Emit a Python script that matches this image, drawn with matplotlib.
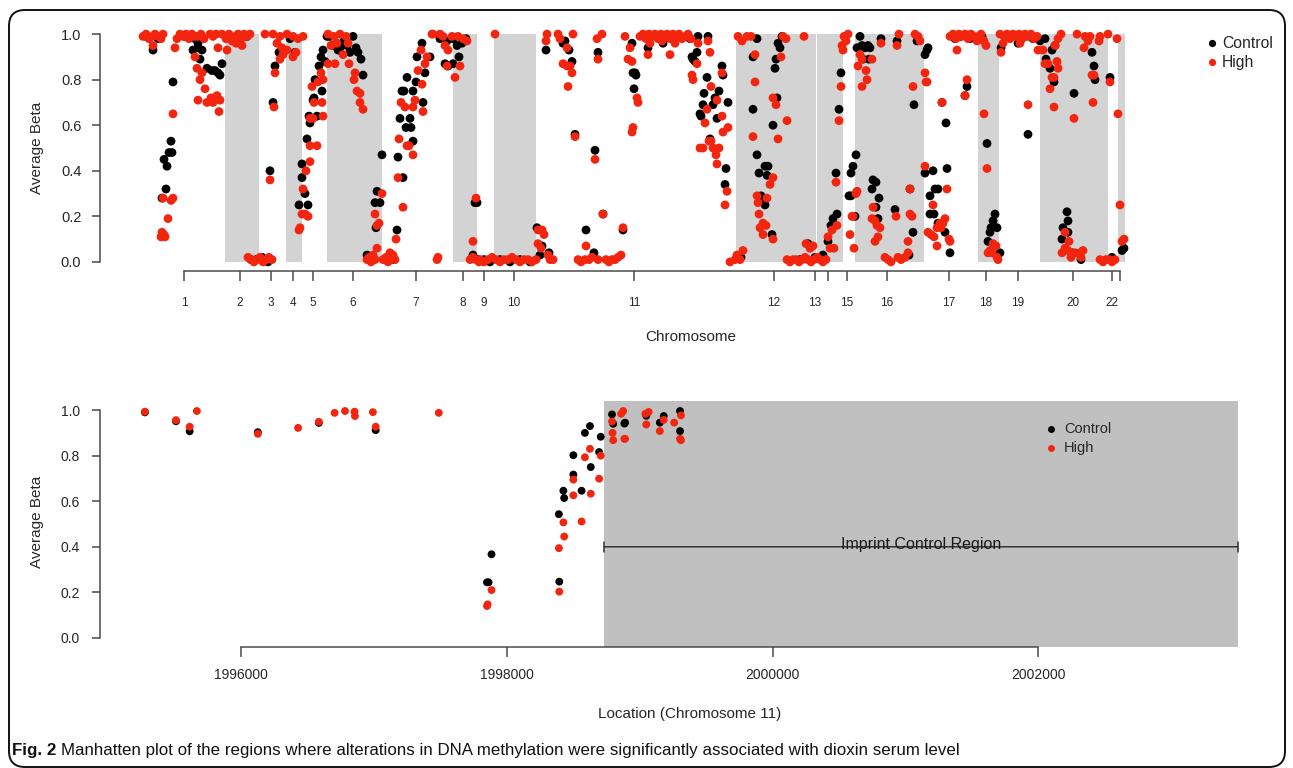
import matplotlib
matplotlib.use("Agg")
import matplotlib.pyplot as plt
from matplotlib.patches import FancyBboxPatch
from matplotlib.lines import Line2D
from matplotlib.transforms import IdentityTransform

# ---------------- DATA ----------------
# Top panel: genome-wide plot position index (arbitrary ordered units) and average beta
chrom_tick_pos = [184, 240, 271, 293, 313, 353, 416, 463, 484, 514, 634, 774, 815, 828,
                  847, 887, 949, 986, 1018, 1073, 1112, 1120]
chrom_tick_lab = ['1', '2', '3', '4', '5', '6', '7', '8', '9', '10', '11', '12', '13', '',
                  '15', '16', '17', '18', '19', '20', '22', '']
chrom_bands = [(225, 259), (286, 302), (327, 382), (453, 477), (494, 536), (736, 816),
               (817, 843), (855, 924), (978, 999), (1040, 1108), (1118, 1125)]

control_top = [
    (146, 0.99), (153, 0.93), (158, 0.98), (173, 0.79), (171, 0.53), (172, 0.48), (169, 0.48),
    (164, 0.45), (167, 0.42), (166, 0.32), (162, 0.28), (185, 0.99), (190, 0.99), (193, 0.93),
    (195, 0.98), (198, 0.96), (198, 0.94), (202, 0.93), (200, 0.89), (207, 0.85), (212, 0.84),
    (215, 0.84), (218, 0.83), (220, 0.82), (222, 0.87),
    (230, 0.99), (240, 0.98), (247, 0.99), (251, 0.01), (256, 0.01), (262, 0.02), (268, 0.0),
    (275, 0.86), (273, 0.70), (270, 0.40), (279, 0.92), (295, 0.92), (290, 0.98),
    (302, 0.43), (302, 0.37), (305, 0.30), (299, 0.25), (308, 0.25), (307, 0.54), (310, 0.61),
    (309, 0.64), (313, 0.71), (314, 0.72), (315, 0.80), (319, 0.86), (321, 0.90), (323, 0.93),
    (322, 0.75), (325, 0.88), (317, 0.64),
    (327, 0.99), (333, 0.95), (340, 0.94), (347, 0.95), (350, 0.92), (356, 0.94), (358, 0.92),
    (361, 0.89), (363, 0.82), (338, 0.93), (330, 0.99), (353, 0.99), (344, 0.97),
    (382, 0.47), (377, 0.31), (375, 0.26), (380, 0.26), (376, 0.15), (367, 0.03), (370, 0.02),
    (386, 0.01), (390, 0.02), (394, 0.01),
    (397, 0.14), (398, 0.46), (400, 0.63), (402, 0.75), (407, 0.81), (404, 0.75), (406, 0.59),
    (410, 0.63), (411, 0.59), (413, 0.53), (413, 0.75), (416, 0.79), (417, 0.90), (422, 0.96),
    (423, 0.70), (425, 0.83), (403, 0.37), (430, 0.90), (440, 0.98), (447, 0.97), (453, 0.98),
    (457, 0.95), (459, 0.90), (453, 0.87), (445, 0.87), (448, 0.86), (466, 0.98), (462, 0.96),
    (475, 0.26), (477, 0.26), (473, 0.03), (478, 0.01), (484, 0.01), (490, 0.0), (500, 0.01),
    (510, 0.0), (520, 0.01), (530, 0.0),
    (537, 0.15), (542, 0.07), (540, 0.03), (546, 0.93), (565, 0.97), (563, 0.96), (569, 0.93),
    (572, 0.88), (549, 0.04), (575, 0.56), (586, 0.14), (595, 0.49), (594, 0.04), (598, 0.92),
    (603, 0.21), (623, 0.14), (632, 0.96), (635, 0.83), (633, 0.83), (634, 0.76), (636, 0.82),
    (648, 0.94), (663, 0.96), (674, 0.98), (690, 0.98), (698, 0.99), (697, 0.92), (708, 0.99),
    (692, 0.90), (693, 0.89), (695, 0.88), (707, 0.81), (704, 0.74), (715, 0.72), (719, 0.75),
    (713, 0.69), (703, 0.69), (728, 0.70), (700, 0.65), (701, 0.64), (717, 0.63), (710, 0.54),
    (726, 0.41), (725, 0.34), (722, 0.86), (723, 0.82),
    (741, 0.02), (757, 0.98), (753, 0.90), (753, 0.67), (757, 0.47), (759, 0.39), (761, 0.29),
    (763, 0.27), (765, 0.25), (765, 0.42), (768, 0.42), (767, 0.38), (772, 0.12), (773, 0.60),
    (777, 0.72), (776, 0.89), (775, 0.85), (780, 0.94), (778, 0.96), (782, 0.99), (808, 0.08),
    (800, 0.01), (815, 0.02), (823, 0.03),
    (828, 0.09), (831, 0.16), (833, 0.19), (837, 0.21), (836, 0.39), (839, 0.67), (841, 0.83),
    (849, 0.29), (851, 0.39), (853, 0.42), (856, 0.47), (855, 0.20), (851, 0.29),
    (857, 0.94), (860, 0.99), (862, 0.95), (865, 0.94), (868, 0.95), (870, 0.94), (863, 0.89),
    (869, 0.89), (881, 0.98), (897, 0.97), (917, 0.97), (914, 0.69), (927, 0.93), (925, 0.91),
    (873, 0.36), (876, 0.35), (872, 0.32), (876, 0.24), (879, 0.28), (878, 0.19), (895, 0.23),
    (909, 0.03), (913, 0.13), (910, 0.32), (925, 0.39), (933, 0.40),
    (930, 0.29), (935, 0.32), (938, 0.32), (930, 0.21), (934, 0.21), (938, 0.17), (945, 0.13),
    (947, 0.41), (950, 0.04), (946, 0.61), (942, 0.70), (965, 0.73), (967, 0.77), (928, 0.94),
    (955, 0.98), (960, 0.99), (970, 0.98),
    (987, 0.52), (995, 0.21), (993, 0.18), (997, 0.15), (991, 0.15), (990, 0.13), (988, 0.09),
    (1000, 0.04), (982, 0.99),
    (1001, 0.94), (1018, 0.96), (1040, 0.97), (1028, 0.56), (1010, 0.99), (1025, 0.99),
    (1033, 0.98),
    (1045, 0.98), (1046, 0.89), (1050, 0.85), (1054, 0.79), (1052, 0.93), (1055, 0.95),
    (1074, 0.74), (1092, 0.92), (1094, 0.86), (1095, 0.80), (1067, 0.22), (1068, 0.18),
    (1063, 0.15), (1062, 0.10), (1068, 0.13), (1072, 0.04), (1081, 0.01), (1110, 0.81),
    (1112, 0.02), (1122, 0.05), (1124, 0.06),
]

high_top = [
    (143, 0.99), (146, 1.0), (149, 0.98), (152, 0.99), (155, 1.0), (158, 0.99), (161, 0.98),
    (163, 1.0), (153, 0.95),
    (173, 0.65), (163, 0.28), (171, 0.27), (173, 0.28), (168, 0.19), (162, 0.13), (161, 0.11),
    (165, 0.11), (164, 0.12),
    (175, 0.94), (177, 0.98), (180, 1.0), (183, 0.99), (186, 1.0), (189, 0.98), (192, 1.0),
    (195, 0.99), (198, 0.99), (201, 1.0), (204, 0.98), (210, 1.0), (213, 0.99), (216, 1.0),
    (195, 0.90), (197, 0.85), (202, 0.83), (200, 0.80), (205, 0.76), (198, 0.71), (207, 0.70),
    (213, 0.70), (217, 0.73), (220, 0.71), (219, 0.66), (211, 0.72), (218, 0.94), (227, 0.93),
    (222, 1.0), (226, 0.98), (229, 1.0), (232, 0.97), (235, 0.99), (238, 1.0), (241, 0.98),
    (244, 1.0), (247, 0.99), (250, 1.0), (236, 0.96), (242, 0.95),
    (248, 0.02), (251, 0.01), (254, 0.0), (257, 0.01), (260, 0.02), (263, 0.0), (266, 0.01),
    (269, 0.02), (272, 0.01),
    (265, 1.0), (273, 1.0), (280, 0.99), (287, 1.0), (293, 0.99), (298, 0.98), (303, 0.99),
    (277, 0.96), (282, 0.94), (287, 0.93), (293, 0.90), (283, 0.91), (296, 0.92), (280, 0.89),
    (275, 0.83), (274, 0.68), (270, 0.36),
    (299, 0.14), (300, 0.15), (302, 0.21), (305, 0.21), (308, 0.20), (303, 0.32), (306, 0.40),
    (310, 0.44), (310, 0.51), (317, 0.51), (310, 0.63), (313, 0.63), (314, 0.70), (322, 0.70),
    (323, 0.64), (318, 0.79), (321, 0.83), (323, 0.80), (312, 0.77),
    (328, 1.0), (334, 0.99), (340, 1.0), (346, 0.99), (328, 0.87), (335, 0.87), (343, 0.91),
    (349, 0.87), (354, 0.80), (357, 0.75), (360, 0.74), (360, 0.70), (363, 0.67), (355, 0.83),
    (337, 0.96), (348, 0.96), (331, 0.95),
    (382, 0.30), (375, 0.21), (379, 0.17), (377, 0.16), (377, 0.06), (367, 0.01), (371, 0.0),
    (375, 0.01), (369, 0.02), (373, 0.03),
    (383, 0.01), (386, 0.02), (388, 0.0), (391, 0.01), (393, 0.03), (395, 0.01), (390, 0.04),
    (396, 0.10), (398, 0.37), (399, 0.54), (401, 0.70), (403, 0.24), (405, 0.68), (407, 0.51),
    (409, 0.51), (413, 0.47), (413, 0.68), (415, 0.71), (418, 0.84), (422, 0.78), (423, 0.66),
    (421, 0.93), (425, 0.87), (427, 0.90), (432, 1.0), (437, 0.01), (438, 0.02),
    (433, 1.0), (440, 1.0), (445, 0.95), (448, 0.93), (447, 0.86), (455, 0.81), (460, 0.86),
    (463, 0.98), (467, 0.97), (452, 0.99), (443, 0.99), (458, 0.99),
    (476, 0.28), (473, 0.09), (473, 0.02), (470, 0.01), (476, 0.01), (479, 0.0),
    (480, 0.01), (484, 0.0), (488, 0.01), (492, 0.02), (496, 0.01), (500, 0.0), (504, 0.01),
    (508, 0.01), (512, 0.02), (516, 0.01), (520, 0.0), (524, 0.01), (528, 0.01), (532, 0.0),
    (536, 0.01), (495, 1.0),
    (538, 0.14), (542, 0.14), (544, 0.12), (538, 0.08), (541, 0.06), (548, 0.03), (553, 0.01),
    (550, 0.01), (547, 1.0), (546, 0.97), (558, 1.0), (560, 0.98), (567, 0.94), (563, 0.87),
    (567, 0.86), (570, 0.86), (572, 0.83), (568, 0.77), (573, 1.0), (575, 0.55), (586, 0.07),
    (595, 0.45), (585, 0.01), (578, 0.01), (581, 0.0), (589, 0.01), (592, 0.02), (598, 0.01),
    (597, 0.98), (598, 0.89), (602, 1.0), (603, 0.21), (606, 0.01), (609, 0.0), (612, 0.01),
    (615, 0.01), (618, 0.02), (621, 0.03), (623, 0.15), (625, 0.99), (630, 0.94), (628, 0.89),
    (632, 0.88), (637, 0.72), (638, 0.70), (633, 0.59), (632, 0.57),
    (640, 0.99), (643, 1.0), (646, 0.98), (649, 1.0), (652, 0.99), (655, 1.0), (658, 0.98),
    (661, 1.0), (664, 0.99), (667, 1.0), (670, 0.98), (673, 1.0), (676, 0.99), (679, 1.0),
    (682, 0.98), (685, 0.99), (688, 1.0), (691, 0.98), (648, 0.91), (670, 0.91), (650, 0.96),
    (662, 0.97), (675, 0.96), (698, 0.96), (708, 0.97), (710, 0.92),
    (697, 0.87), (692, 0.82), (693, 0.80), (711, 0.77), (717, 0.71), (707, 0.67), (722, 0.64),
    (705, 0.61), (723, 0.57), (728, 0.59), (709, 0.53), (711, 0.53), (700, 0.50), (703, 0.50),
    (713, 0.50), (719, 0.50), (716, 0.47), (717, 0.43), (727, 0.31), (725, 0.25), (722, 0.83),
    (730, 0.0), (737, 0.03), (743, 0.05), (735, 0.01), (740, 0.01), (738, 0.99), (742, 0.97),
    (747, 0.99), (751, 0.99), (755, 0.91), (755, 0.79), (753, 0.55), (757, 0.29), (767, 0.28),
    (758, 0.26), (759, 0.21), (763, 0.17), (766, 0.16), (760, 0.15), (763, 0.12), (773, 0.10),
    (773, 0.37), (770, 0.34), (778, 0.54), (773, 0.72), (776, 0.69), (787, 0.62), (781, 0.90),
    (783, 0.99), (786, 0.98), (804, 0.99),
    (787, 0.01), (790, 0.0), (793, 0.01), (796, 0.01), (799, 0.0), (802, 0.01), (805, 0.02),
    (808, 0.01), (811, 0.0), (814, 0.01), (817, 0.02), (820, 0.01), (823, 0.0), (826, 0.01),
    (806, 0.08), (813, 0.07), (810, 0.06),
    (828, 0.11), (832, 0.14), (830, 0.06), (834, 0.06), (837, 0.16), (836, 0.35), (839, 0.62),
    (841, 0.77), (842, 0.95), (844, 0.99), (846, 0.97), (848, 1.0), (843, 0.93), (850, 0.12),
    (852, 0.20), (854, 0.06), (857, 0.31), (856, 0.30), (853, 0.20),
    (860, 0.91), (862, 0.89), (858, 0.86), (866, 0.84), (867, 0.80), (862, 0.77), (872, 0.89),
    (881, 0.96), (897, 0.95), (899, 1.0), (915, 1.0), (918, 0.99), (920, 0.97), (913, 0.77),
    (925, 0.83), (927, 0.79), (873, 0.24), (872, 0.19), (875, 0.18), (877, 0.16), (880, 0.15),
    (878, 0.11), (875, 0.09), (896, 0.20), (885, 0.02), (888, 0.01), (891, 0.0), (898, 0.02),
    (901, 0.01), (905, 0.02), (908, 0.04), (908, 0.09), (910, 0.32), (910, 0.21), (912, 0.20),
    (925, 0.42),
    (933, 0.25), (928, 0.13), (931, 0.12), (934, 0.11), (937, 0.15), (941, 0.15), (943, 0.17),
    (945, 0.19), (937, 0.07), (949, 0.10), (947, 0.32), (942, 0.70), (926, 0.79), (965, 0.73),
    (967, 0.80), (957, 0.93), (950, 0.99), (953, 1.0), (956, 0.98), (959, 1.0), (962, 0.99),
    (965, 1.0), (968, 0.98), (971, 1.0), (974, 0.99), (977, 0.97), (940, 0.17), (950, 0.09),
    (978, 0.99), (981, 1.0), (984, 0.97), (986, 0.95), (984, 0.65), (987, 0.41), (993, 0.08),
    (996, 0.07), (990, 0.05), (992, 0.04), (988, 0.04), (998, 0.01), (997, 0.02),
    (1001, 0.92), (1000, 1.0), (1004, 0.99), (1007, 1.0), (1010, 0.98), (1013, 1.0),
    (1016, 0.99), (1019, 1.0), (1022, 0.98), (1025, 1.0), (1028, 0.99), (1031, 1.0),
    (1034, 0.98), (1037, 0.99), (1028, 0.69), (1003, 0.96), (1020, 0.96),
    (1038, 0.93), (1043, 0.93), (1045, 0.87), (1048, 0.87), (1052, 0.81), (1054, 0.81),
    (1050, 0.76), (1054, 0.68), (1055, 0.95), (1058, 0.98), (1061, 1.0), (1057, 0.88),
    (1058, 0.85), (1074, 0.63), (1077, 1.0), (1085, 0.99), (1088, 0.97), (1090, 0.99),
    (1084, 0.94), (1099, 0.97), (1100, 0.99), (1092, 0.82), (1094, 0.82), (1093, 0.70),
    (1108, 1.0), (1117, 0.98), (1065, 0.13), (1069, 0.09), (1065, 0.06), (1062, 0.04),
    (1068, 0.05), (1075, 0.04), (1071, 0.02), (1080, 0.04), (1083, 0.05), (1081, 0.02),
    (1100, 0.01), (1103, 0.0), (1106, 0.01), (1109, 0.01), (1112, 0.0), (1115, 0.01),
    (1110, 0.79), (1118, 0.65), (1120, 0.25), (1122, 0.09), (1124, 0.10),
]

# Bottom panel: chromosome 11 location and average beta
control_loc = [1995275, 1995509, 1995612, 1996125, 1996584, 1997012,
               1997850, 1997862, 1997884, 1998391, 1998394, 1998425, 1998431, 1998500,
               1998500, 1998562, 1998587, 1998625, 1998631, 1998694, 1998706, 1998791,
               1998800, 1998884, 1998889, 1999049, 1999151, 1999180, 1999303, 1999303]
control_beta = [0.99, 0.951, 0.907, 0.903, 0.944, 0.912,
                0.244, 0.244, 0.367, 0.543, 0.247, 0.646, 0.614, 0.717,
                0.802, 0.646, 0.900, 0.930, 0.750, 0.816, 0.883, 0.981,
                0.940, 0.941, 0.945, 0.975, 0.945, 0.974, 0.996, 0.908]
high_loc = [1995275, 1995509, 1995612, 1995666, 1996125, 1996428, 1996584, 1996703,
            1996781, 1996853, 1996856, 1996991, 1997012, 1997487,
            1997850, 1997855, 1997884, 1998391, 1998394, 1998425, 1998431, 1998500,
            1998500, 1998562, 1998587, 1998625, 1998631, 1998694, 1998706,
            1998791, 1998795, 1998800, 1998860, 1998875, 1998884, 1998889,
            1999042, 1999067, 1999049, 1999151, 1999180, 1999259, 1999310, 1999303, 1999310]
high_beta = [0.993, 0.956, 0.927, 0.996, 0.896, 0.922, 0.949, 0.988,
             0.996, 0.993, 0.974, 0.991, 0.927, 0.988,
             0.14, 0.147, 0.21, 0.394, 0.203, 0.507, 0.445, 0.695,
             0.626, 0.511, 0.793, 0.830, 0.633, 0.699, 0.800,
             0.95, 0.90, 0.868, 0.984, 0.996, 0.874, 0.874,
             0.984, 0.992, 0.937, 0.908, 0.957, 0.945, 0.977, 0.874, 0.868]

icr_start = 1998731
x_bottom_ticks = [1996000, 1998000, 2000000, 2002000]
beta_ticks = [0.0, 0.2, 0.4, 0.6, 0.8, 1.0]

# ---------------- STYLE ----------------
W, H = 1293, 768
RED = "#f3250f"
BLK = "#000000"
AXC = "#4a4a4a"
TXT = "#262626"
FONT = ["Liberation Sans", "DejaVu Sans"]
plt.rcParams['font.family'] = FONT

fig = plt.figure(figsize=(W / 100, H / 100), dpi=100)


def fx(px):
    return px / W


def fy(py):
    return 1 - py / H


def style_axes(ax, xb, ylab_pad, xt_len, xt_pad, xt_size, yt_size):
    for s in ('top', 'right'):
        ax.spines[s].set_visible(False)
    for s in ('left', 'bottom'):
        ax.spines[s].set_color(AXC)
        ax.spines[s].set_linewidth(1.1)
    ax.spines['left'].set_bounds(0, 1)
    ax.spines['bottom'].set_bounds(*xb)
    ax.set_yticks(beta_ticks)
    ax.set_yticklabels([f"{v:.1f}" for v in beta_ticks])
    ax.tick_params(axis='y', length=6, width=1.1, color=AXC, pad=ylab_pad,
                   labelsize=yt_size, labelcolor=TXT)
    ax.tick_params(axis='x', length=xt_len, width=1.1, color=AXC, pad=xt_pad,
                   labelsize=xt_size, labelcolor=TXT)
    ax.patch.set_alpha(0)


# ---- top panel ----
ax1 = fig.add_axes([fx(100), fy(271), fx(1238) - fx(100), fy(25) - fy(271)])
ax1.set_xlim(100, 1238)
ax1.set_ylim(-0.04, 1.04)
for a, b in chrom_bands:
    ax1.fill_between([a, b], 0, 1, color="#d3d3d3", lw=0, zorder=0)
cx, cy = zip(*control_top)
hx, hy = zip(*high_top)
ax1.scatter(cx, cy, s=40, c=BLK, edgecolors='none', zorder=2)
ax1.scatter(hx, hy, s=40, c=RED, edgecolors='none', zorder=3)
ax1.set_xticks(chrom_tick_pos)
ax1.set_xticklabels(chrom_tick_lab)
style_axes(ax1, (chrom_tick_pos[0], chrom_tick_pos[-1]), 7.5, 7, 11.5, 8.5, 10.5)

# ---- bottom panel ----
x_lo, x_hi = 1994937, 2003503
ax2 = fig.add_axes([fx(100), fy(647), fx(1238) - fx(100), fy(401) - fy(647)])
ax2.set_xlim(x_lo, x_hi)
ax2.set_ylim(-0.04, 1.04)
ax2.axvspan(icr_start, x_hi, color="#c0c0c0", lw=0, zorder=0)
ax2.scatter(control_loc, control_beta, s=32, c=BLK, edgecolors='none', zorder=2)
ax2.scatter(high_loc, high_beta, s=32, c=RED, edgecolors='none', zorder=3)
ax2.set_xticks(x_bottom_ticks)
ax2.set_xticklabels([str(v) for v in x_bottom_ticks])
style_axes(ax2, (x_bottom_ticks[0], x_bottom_ticks[-1]), 8.5, 7, 8, 10, 10)
ax2.annotate("", xy=(icr_start, 0.4), xytext=(x_hi, 0.4),
             arrowprops=dict(arrowstyle="|-|,widthA=0.35,widthB=0.35", color="#333333",
                             lw=1.1, shrinkA=0, shrinkB=0), zorder=4)
ax2.text((icr_start + x_hi) / 2, 0.39, "Imprint Control Region", ha='center', va='baseline',
         fontsize=11.5, color="#1a1a1a", zorder=5)

# ---- axis labels ----
fig.text(fx(37), fy(148), "Average Beta", rotation=90, ha='center', va='center',
         fontsize=11, color=TXT)
fig.text(fx(37), fy(522), "Average Beta", rotation=90, ha='center', va='center',
         fontsize=11, color=TXT)
fig.text(fx(691), fy(337), "Chromosome", ha='center', va='center', fontsize=11, color=TXT)
fig.text(fx(690), fy(714), "Location (Chromosome 11)", ha='center', va='center',
         fontsize=11, color=TXT)

# ---- legends ----
def legend(x_dot, x_txt, ys, size, fs):
    for (lab, col), yy in zip([("Control", BLK), ("High", RED)], ys):
        fig.add_artist(Line2D([fx(x_dot)], [fy(yy)], marker='o', ms=size, color=col,
                              mec='none', ls='none', transform=fig.transFigure))
        fig.text(fx(x_txt), fy(yy), lab, ha='left', va='center', fontsize=fs, color=TXT)


legend(1212, 1222, [43, 62], 5.2, 11.3)
legend(1051, 1064, [429, 448], 5.0, 10.5)

# ---- outer rounded frame ----
frame = FancyBboxPatch((9, 1), 1276, 757, boxstyle="round,pad=0,rounding_size=16",
                       transform=IdentityTransform(), fill=False, ec="#111111", lw=1.4)
fig.add_artist(frame)

# ---- caption ----
cap_font = ["Liberation Sans Narrow", "Liberation Sans"]
renderer = fig.canvas.get_renderer()
t_bold = fig.text(fx(12), fy(750), "Fig. 2", ha='left', va='center', fontsize=12.5,
                  fontweight='bold', family=cap_font, color="#111111")
bb = t_bold.get_window_extent(renderer)
t_reg = fig.text((bb.x1 + 5) / W, fy(750),
                 "Manhatten plot of the regions where alterations in DNA methylation were "
                 "significantly associated with dioxin serum level",
                 ha='left', va='center', fontsize=12.5, family=cap_font, color="#111111")
bb2 = t_reg.get_window_extent(renderer)
target = 958 - (bb.x1 + 5)
scale = target / bb2.width
t_reg.set_fontsize(12.5 * scale)
t_bold.set_fontsize(12.5 * scale)
bb = t_bold.get_window_extent(renderer)
t_reg.set_x((bb.x1 + 5) / W)

fig.savefig("out.png", dpi=100)
